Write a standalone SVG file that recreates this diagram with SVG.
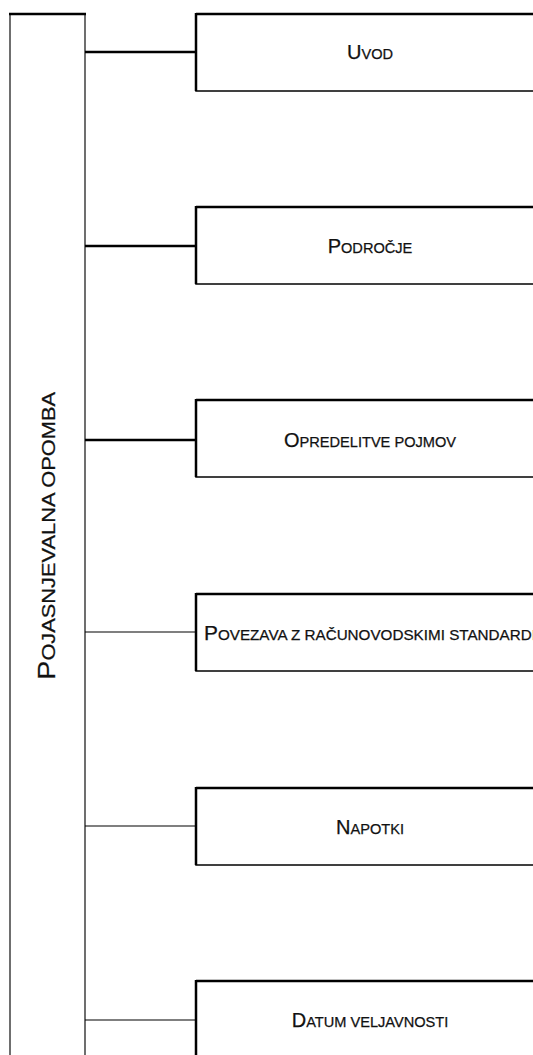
<svg xmlns="http://www.w3.org/2000/svg" width="533" height="1055" viewBox="0 0 533 1055">
<style>
.lbl{font-family:"Liberation Sans",Arial,sans-serif;font-size:20px;fill:#111;stroke:#111;stroke-width:0.25;text-anchor:middle}
.sc{font-size:14.6px}
.vl{font-family:"Liberation Sans",Arial,sans-serif;font-size:24px;fill:#111;stroke:#111;stroke-width:0.25;text-anchor:middle}
.vsc{font-size:18px}
.box{fill:#fff;stroke:#000;stroke-width:1.5}
.edge{stroke:#000;fill:none}
.thick{stroke-width:2.5}
.thin{stroke-width:1.2}
</style>
<rect width="533" height="1055" fill="#fff"/>
<g id="root">
<path d="M10,1060 V14 M85,14 V1060" fill="none" stroke="#222" stroke-width="1.3"/>
<path d="M9,14 H86" stroke="#000" stroke-width="2.5"/>
<text class="vl" transform="translate(55,536) rotate(-90)" textLength="288" lengthAdjust="spacingAndGlyphs">P<tspan class="vsc">OJASNJEVALNA OPOMBA</tspan></text>
</g>
<g id="connectors">
<path class="edge thick" d="M85,52 H196 M85,246 H196 M85,440 H196"/>
<path class="edge thin" d="M85,632 H196 M85,826 H196 M85,1020 H196"/>
</g>
<g id="n1">
<rect class="box" x="196" y="14" width="360" height="77"/>
<path class="edge thick" d="M196,13 V91 M196,14 H560"/>
<text class="lbl" x="370" y="59">U<tspan class="sc">VOD</tspan></text>
</g>
<g id="n2">
<rect class="box" x="196" y="207" width="360" height="77"/>
<path class="edge thick" d="M196,206 V284 M196,207 H560"/>
<text class="lbl" x="370" y="253">P<tspan class="sc">ODROČJE</tspan></text>
</g>
<g id="n3">
<rect class="box" x="196" y="400" width="360" height="77"/>
<path class="edge thick" d="M196,399 V477 M196,400 H560"/>
<text class="lbl" x="370" y="447">O<tspan class="sc">PREDELITVE POJMOV</tspan></text>
</g>
<g id="n4">
<rect class="box" x="196" y="594" width="360" height="77"/>
<path class="edge thick" d="M196,593 V671 M196,594 H560"/>
<text class="lbl" x="370" y="640" textLength="332" lengthAdjust="spacingAndGlyphs">P<tspan class="sc">OVEZAVA Z RAČUNOVODSKIMI STANDARDI</tspan></text>
</g>
<g id="n5">
<rect class="box" x="196" y="788" width="360" height="77"/>
<path class="edge thick" d="M196,787 V865 M196,788 H560"/>
<text class="lbl" x="370" y="834">N<tspan class="sc">APOTKI</tspan></text>
</g>
<g id="n6">
<rect class="box" x="196" y="981" width="360" height="77"/>
<path class="edge thick" d="M196,980 V1060 M196,981 H560"/>
<text class="lbl" x="370" y="1027">D<tspan class="sc">ATUM VELJAVNOSTI</tspan></text>
</g>
</svg>
